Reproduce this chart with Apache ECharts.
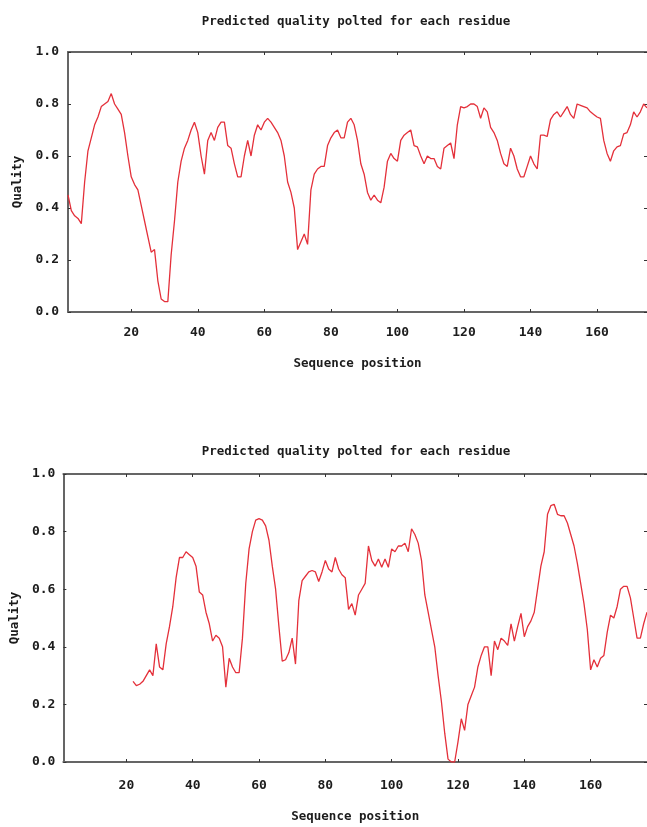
<!DOCTYPE html>
<html>
<head>
<meta charset="utf-8">
<script src="https://cdn.jsdelivr.net/npm/echarts@6/dist/echarts.min.js"></script>
<style>
  html, body { margin: 0; padding: 0; background: #ffffff; overflow: hidden; }
  #chart { width: 647px; height: 827px; }
</style>
</head>
<body>
<div id="chart"></div>
<script>
// ---- Data ----
const titleText = 'Predicted quality polted for each residue';
const xAxisName = 'Sequence position';
const yAxisName = 'Quality';
const xTicks = [20, 40, 60, 80, 100, 120, 140, 160];
const yTicks = [0.0, 0.2, 0.4, 0.6, 0.8, 1.0];

// Top panel: residues 1..175
const topStart = 1;
const topValues = [
  0.45, 0.39, 0.37, 0.36, 0.34, 0.50, 0.62, 0.67, 0.72, 0.75,
  0.79, 0.80, 0.81, 0.84, 0.80, 0.78, 0.76, 0.69, 0.60, 0.52,
  0.49, 0.47, 0.41, 0.35, 0.29, 0.23, 0.24, 0.12, 0.05, 0.04,
  0.04, 0.22, 0.35, 0.50, 0.58, 0.63, 0.66, 0.70, 0.73, 0.69,
  0.60, 0.53, 0.66, 0.69, 0.66, 0.71, 0.73, 0.73, 0.64, 0.63,
  0.57, 0.52, 0.52, 0.60, 0.66, 0.60, 0.68, 0.72, 0.70, 0.73,
  0.745, 0.73, 0.71, 0.69, 0.66, 0.60, 0.50, 0.46, 0.40, 0.24,
  0.27, 0.30, 0.26, 0.47, 0.53, 0.55, 0.56, 0.56, 0.64, 0.67,
  0.69, 0.70, 0.67, 0.67, 0.73, 0.745, 0.72, 0.66, 0.57, 0.53,
  0.46, 0.43, 0.45, 0.43, 0.42, 0.48, 0.58, 0.61, 0.59, 0.58,
  0.66, 0.68, 0.69, 0.70, 0.64, 0.635, 0.60, 0.57, 0.60, 0.59,
  0.59, 0.56, 0.55, 0.63, 0.64, 0.65, 0.59, 0.72, 0.79, 0.785,
  0.79, 0.80, 0.80, 0.79, 0.745, 0.785, 0.77, 0.71, 0.69, 0.66,
  0.61, 0.57, 0.56, 0.63, 0.60, 0.55, 0.52, 0.52, 0.56, 0.60,
  0.57, 0.55, 0.68, 0.68, 0.675, 0.74, 0.76, 0.77, 0.75, 0.77,
  0.79, 0.76, 0.745, 0.80, 0.795, 0.79, 0.785, 0.77, 0.76, 0.75,
  0.745, 0.66, 0.61, 0.58, 0.62, 0.635, 0.64, 0.685, 0.69, 0.72,
  0.77, 0.75, 0.77, 0.80, 0.785
];

// Bottom panel: residues 22..177
const bottomStart = 22;
const bottomValues = [
  0.28, 0.265, 0.27, 0.28, 0.30, 0.32, 0.30, 0.41, 0.33, 0.32,
  0.41, 0.47, 0.54, 0.64, 0.71, 0.71, 0.73, 0.72, 0.71, 0.68,
  0.59, 0.58, 0.52, 0.48, 0.42, 0.44, 0.43, 0.40, 0.26, 0.36,
  0.33, 0.31, 0.31, 0.43, 0.62, 0.74, 0.80, 0.84, 0.845, 0.84,
  0.82, 0.77, 0.68, 0.60, 0.47, 0.35, 0.355, 0.38, 0.43, 0.34,
  0.56, 0.63, 0.645, 0.66, 0.665, 0.66, 0.627, 0.66, 0.70, 0.67,
  0.66, 0.71, 0.67, 0.65, 0.64, 0.53, 0.55, 0.51, 0.58, 0.60,
  0.62, 0.75, 0.70, 0.68, 0.705, 0.676, 0.705, 0.676, 0.74, 0.73,
  0.75, 0.75, 0.76, 0.73, 0.81, 0.79, 0.76, 0.70, 0.58, 0.52,
  0.46, 0.40, 0.30, 0.21, 0.10, 0.01, 0.0, 0.0, 0.07, 0.15,
  0.11, 0.20, 0.23, 0.26, 0.33, 0.37, 0.40, 0.40, 0.30, 0.42,
  0.39, 0.43, 0.42, 0.405, 0.48, 0.42, 0.47, 0.516, 0.435, 0.47,
  0.49, 0.52, 0.60, 0.68, 0.73, 0.86, 0.89, 0.895, 0.86, 0.855,
  0.855, 0.83, 0.79, 0.75, 0.69, 0.62, 0.55, 0.46, 0.32, 0.355,
  0.33, 0.36, 0.37, 0.45, 0.51, 0.50, 0.54, 0.60, 0.61, 0.61,
  0.57, 0.50, 0.43, 0.43, 0.48, 0.52
];

const topXRange = [1, 175];
const bottomXRange = [1, 177];

// ---- Styling ----
const FONT = '"DejaVu Sans Mono", "Liberation Mono", monospace';
const frameColor = '#656565';
const textColor = '#1c1c1c';
const lineColor = '#e4303a';

const chart = echarts.init(document.getElementById('chart'), null, { renderer: 'canvas' });

function xAxisPair(gridIndex, range, labelMargin, nameGap) {
  const base = {
    type: 'value', gridIndex: gridIndex, min: range[0], max: range[1],
    axisLine: { show: true, onZero: false, lineStyle: { color: frameColor, width: 2 } },
    axisTick: { show: true, inside: true, length: 3, customValues: xTicks, lineStyle: { color: '#333', width: 1 } },
    splitLine: { show: false }
  };
  return [
    Object.assign({}, base, {
      position: 'bottom',
      name: xAxisName, nameLocation: 'middle', nameGap: nameGap,
      nameTextStyle: { fontFamily: FONT, fontWeight: 'bold', fontSize: 12.5, color: textColor },
      axisLabel: { show: true, customValues: xTicks, margin: labelMargin,
        fontFamily: FONT, fontWeight: 'bold', fontSize: 13, color: textColor }
    }),
    Object.assign({}, base, { position: 'top', axisLabel: { show: false } })
  ];
}

function yAxisPair(gridIndex, nameGap, labelMargin) {
  const base = {
    type: 'value', gridIndex: gridIndex, min: 0, max: 1, interval: 0.2,
    axisLine: { show: true, onZero: false, lineStyle: { color: frameColor, width: 2 } },
    axisTick: { show: true, inside: true, length: 3, lineStyle: { color: '#333', width: 1 } },
    splitLine: { show: false }
  };
  return [
    Object.assign({}, base, {
      position: 'left',
      name: yAxisName, nameLocation: 'middle', nameGap: nameGap, nameRotate: 90,
      nameTextStyle: { fontFamily: FONT, fontWeight: 'bold', fontSize: 12.5, color: textColor },
      axisLabel: { show: true, margin: labelMargin, fontFamily: FONT, fontWeight: 'bold', fontSize: 13, color: textColor,
        formatter: function (v) { return v.toFixed(1); } }
    }),
    // right mirror: border lies just beyond the cropped edge; only its ticks show
    Object.assign({}, base, {
      position: 'right', axisLabel: { show: false },
      axisLine: { show: false, onZero: false }
    })
  ];
}

const xAxes = xAxisPair(0, topXRange, 14, 45).concat(xAxisPair(1, bottomXRange, 17, 48));
const yAxes = yAxisPair(0, 40, 9).concat(yAxisPair(1, 41, 8));

const option = {
  backgroundColor: '#ffffff',
  animation: false,
  title: [
    { text: titleText, left: 351, top: 10, textAlign: 'center',
      textStyle: { fontFamily: FONT, fontWeight: 'bold', fontSize: 12.5, color: textColor } },
    { text: titleText, left: 351, top: 440, textAlign: 'center',
      textStyle: { fontFamily: FONT, fontWeight: 'bold', fontSize: 12.5, color: textColor } }
  ],
  grid: [
    { left: 68, right: -2, top: 52, height: 260, containLabel: false },
    { left: 62, right: -2, top: 474, height: 288, containLabel: false }
  ],
  xAxis: xAxes,
  yAxis: yAxes,
  series: [
    {
      type: 'line', xAxisIndex: 0, yAxisIndex: 0, showSymbol: false, smooth: false,
      lineStyle: { color: lineColor, width: 1.3 },
      data: topValues.map(function (v, i) { return [topStart + i, v]; })
    },
    {
      type: 'line', xAxisIndex: 2, yAxisIndex: 2, showSymbol: false, smooth: false,
      lineStyle: { color: lineColor, width: 1.3 },
      data: bottomValues.map(function (v, i) { return [bottomStart + i, v]; })
    }
  ]
};

chart.setOption(option);
</script>
</body>
</html>
